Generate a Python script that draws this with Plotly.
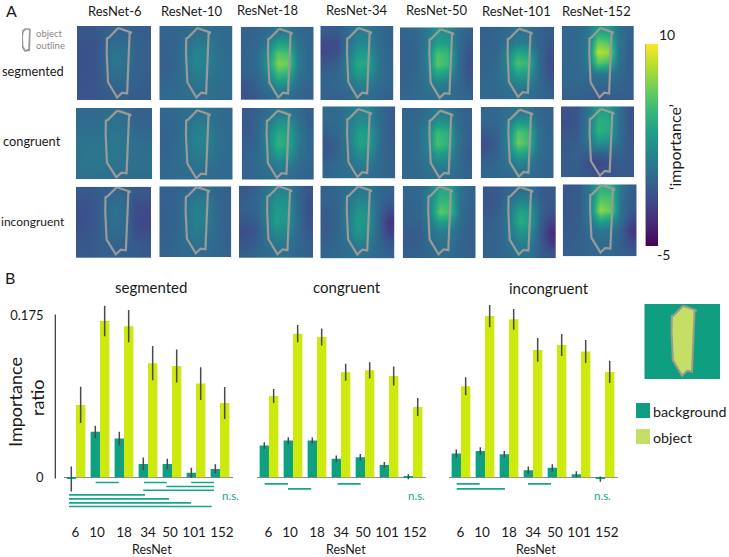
import plotly.graph_objects as go

W, H = 729, 557

networks = ["ResNet-6", "ResNet-10", "ResNet-18", "ResNet-34", "ResNet-50", "ResNet-101", "ResNet-152"]
depths = ["6", "10", "18", "34", "50", "101", "152"]
conditions = ["segmented", "congruent", "incongruent"]

# ---- bar values ----
seg_obj = [0.078, 0.1685, 0.163, 0.123, 0.120, 0.101, 0.080]
seg_obj_err = [0.0196, 0.0165, 0.0174, 0.0185, 0.0178, 0.0176, 0.0172]
seg_bg = [-0.002, 0.049, 0.0417, 0.0144, 0.0144, 0.0047, 0.009]
seg_bg_err = [0.0135, 0.0066, 0.0074, 0.007, 0.0054, 0.0054, 0.0049]

con_obj = [0.0877, 0.1549, 0.1513, 0.1132, 0.1153, 0.1092, 0.0758]
con_obj_err = [0.0075, 0.0092, 0.0092, 0.0092, 0.0088, 0.0102, 0.0097]
con_bg = [0.0341, 0.0395, 0.0395, 0.0198, 0.0216, 0.0133, 0.0004]
con_bg_err = [0.0036, 0.0036, 0.0034, 0.0036, 0.0034, 0.0032, 0.0027]

inc_obj = [0.0981, 0.1739, 0.1703, 0.1373, 0.1427, 0.1355, 0.1136]
inc_obj_err = [0.0097, 0.012, 0.0113, 0.0128, 0.0119, 0.0124, 0.012]
inc_bg = [0.0255, 0.0284, 0.0248, 0.0075, 0.0101, 0.0032, -0.002]
inc_bg_err = [0.0043, 0.004, 0.0036, 0.004, 0.0038, 0.0032, 0.0029]

# significance lines: start, end (in group units), level
seg_sig_start = [0.82, 2.83, 4.80, 3.76, 2.80, -0.29, -0.29, -0.29, -0.29]
seg_sig_end = [1.78, 3.78, 5.75, 5.75, 5.75, 2.875, 3.875, 4.79, 5.65]
seg_sig_level = [-0.00575, -0.00575, -0.00575, -0.010, -0.014, -0.019, -0.0234, -0.0277, -0.0316]

con_sig_start = [-0.18, 0.79, 2.86]
con_sig_end = [0.79, 1.76, 3.82]
con_sig_level = [-0.0072, -0.0126, -0.0072]

inc_sig_start = [-0.18, -0.18, 2.79]
inc_sig_end = [0.78, 1.83, 3.75]
inc_sig_level = [-0.0072, -0.0126, -0.0072]

# ---- heatmaps (panel A), 7x7 coarse reading, top row first ----
seg_6 = [[-.9,-.9,-.6,-.2,-.3,-.5,-.6],[-1.1,-1.1,-.5,.2,.1,-.3,-.5],[-1.2,-1.1,-.3,.8,.5,-.2,-.5],[-1.2,-1.1,-.3,.9,.5,-.2,-.5],[-1.2,-1.1,-.4,.5,.3,-.3,-.5],[-1.1,-1.0,-.6,-.1,-.1,-.4,-.6],[-1.0,-1.0,-.8,-.5,-.5,-.6,-.7]]
seg_10 = [[-.1,-.1,.1,.4,.4,.3,.1],[-.3,-.2,.4,1.1,1,.4,.1],[-.4,-.2,.7,1.8,1.6,.6,.2],[-.4,-.1,.8,1.9,1.6,.7,.3],[-.3,.0,.6,1.4,1.2,.5,.3],[-.1,.1,.4,.8,.7,.4,.3],[.1,.2,.3,.4,.4,.3,.2]]
seg_18 = [[-.4,-.2,.2,1.0,1.0,.1,-.2],[-.3,.0,1.0,3.4,3.2,.5,-.2],[-.2,.2,2.2,5.9,5.4,1.0,-.1],[-.3,.2,2.6,7.1,6.6,1.2,-.1],[-.4,.1,1.8,5.2,4.5,.8,-.1],[-.9,-.3,.6,2.4,2.0,.3,-.2],[-1.1,-.7,-.1,.6,.5,-.1,-.4]]
seg_34 = [[-.6,-.7,.1,1.3,1.3,.2,-.3],[-1.5,-1.5,.3,1.8,1.9,.3,-.3],[-1.6,-1.3,.7,3.0,3.0,.5,-.2],[-.9,-.6,1.0,4.0,3.8,.7,-.1],[-.3,-.1,.8,3.2,2.9,.6,.0],[-.2,.0,.4,1.5,1.4,.3,-.1],[-.4,-.3,-.1,.5,.4,-.1,-.3]]
seg_50 = [[-.1,.1,1.0,2.8,2.4,.4,-.4],[-.3,-.1,1.0,3.4,3.2,.2,-.8],[-.4,-.1,1.2,5.6,5.0,.3,-1.1],[-.4,-.1,1.2,6.0,5.2,.3,-1.3],[-.3,.0,1.0,3.6,3.0,.1,-1.0],[-.2,.0,.6,1.4,1.1,.0,-.6],[-.1,.1,.3,.6,.4,.0,-.3]]
seg_101 = [[-.3,-.2,.1,.6,.5,-.2,-.6],[-.3,-.2,.4,1.4,1.2,-.2,-.9],[-.2,-.1,1.2,4.0,3.4,.1,-1.2],[-.2,.0,1.6,5.6,5.0,.3,-1.4],[-.1,.1,1.2,3.6,3.2,.2,-1.2],[.0,.1,.7,1.6,1.4,.1,-.7],[.0,.1,.3,.5,.4,.0,-.4]]
seg_152 = [[-.1,.0,.8,3.6,3.4,.6,-.2],[-.1,.1,1.0,6.6,6,.8,-.4],[-.1,.1,1.2,8.4,7.8,.8,-.5],[-.1,.1,1.0,6.0,5.2,.5,-.5],[.0,.1,.3,.9,.8,.1,-.5],[-.1,.0,-.2,.0,-.1,-.2,-.5],[-.3,-.2,-.5,-.7,-.6,-.5,-.6]]

con_6 = [[.1,.1,.2,.4,.2,-.5,-.4],[.3,.3,.4,.7,.4,-.3,-.3],[.5,.5,.6,1.0,.6,.1,.1],[.7,.7,.7,1.1,.8,.4,.3],[.8,.9,.9,1.0,.8,.5,.5],[.7,.9,.8,.7,.6,.5,.5],[.5,.6,.5,.4,.3,.3,.3]]
con_10 = [[.0,.1,.3,.7,.7,.3,.1],[-.1,.0,.6,1.2,1.2,.4,.1],[-.2,.0,.8,1.7,1.7,.6,.2],[-.2,.1,.8,1.7,1.6,.6,.2],[-.1,.2,.7,1.3,1.2,.5,.2],[.0,.2,.4,.8,.7,.3,.1],[.1,.2,.3,.4,.3,.2,.1]]
con_18 = [[-.7,-.3,.4,1.2,1.2,.1,-.5],[-.8,-.2,1.2,2.8,2.8,.6,-.4],[-.7,-.1,1.8,4.2,3.8,1.0,-.2],[-.5,.0,1.8,4.6,4.0,1.0,-.1],[-.3,.1,1.4,3.2,2.8,.7,-.1],[-.2,.1,.8,1.6,1.4,.3,-.2],[-.2,.0,.3,.6,.5,.0,-.3]]
con_34 = [[.1,.3,1.0,1.8,1.8,.2,-.5],[.1,.3,1.2,2.4,2.2,.3,-.6],[-.3,.1,1.2,3.6,3.2,.3,-.6],[-.9,-.2,1.2,3.8,3.2,.3,-.5],[-.8,-.1,.9,2.4,2.2,.2,-.4],[-.2,.1,.6,1.4,1.2,.1,-.3],[-.1,.1,.3,.6,.5,.0,-.2]]
con_50 = [[-.2,-.1,.3,1.2,1.0,.1,-.3],[-.1,.1,.9,2.8,2.6,.3,-.4],[.0,.2,1.6,5.2,4.4,.7,-.4],[.0,.2,1.6,5.6,4.6,.7,-.4],[.0,.2,1.2,3.2,2.8,.5,-.6],[.0,.1,.7,1.6,1.4,.3,-.4],[.0,.1,.3,.6,.5,.1,-.2]]
con_101 = [[-.1,.0,.4,1.0,1.0,.0,-.3],[-.1,.0,.9,3.0,2.8,.3,-.4],[-.7,-.2,1.4,6.0,5.0,.6,-.3],[-1.3,-.5,1.5,6.6,5.4,.6,-.2],[-.9,-.3,1.2,4.0,3.2,.4,-.2],[-.3,.0,.6,1.6,1.4,.1,-.2],[-.1,.0,.2,.5,.4,.0,-.2]]
con_152 = [[-1.1,-.9,.6,3.4,3.4,.4,-1.0],[-1.3,-1.0,.8,4.4,4.2,.5,-1.0],[-1.0,-.8,.8,4.6,4.0,.4,-.9],[-.7,-.5,.5,2.8,2.4,.2,-.8],[-.6,-.4,-.4,-.1,.0,-.2,-.7],[-.6,-.5,-1.2,-1.8,-1.2,-.6,-.8],[-.6,-.6,-1.0,-1.3,-1.0,-.7,-.8]]

inc_6 = [[-.8,-.8,-.5,-.1,-.3,-.8,-.9],[-1.1,-1.0,-.3,.4,.1,-1.2,-1.3],[-1.3,-1.1,-.2,.7,.2,-1.5,-1.6],[-1.3,-1.0,-.2,.6,.1,-1.6,-1.8],[-1.1,-.9,-.3,.2,.0,-1.2,-1.4],[-.9,-.8,-.4,-.2,-.3,-.8,-1.0],[-.8,-.7,-.5,-.5,-.5,-.6,-.8]]
inc_10 = [[-.3,-.3,.0,.5,.5,-.1,-.3],[-.4,-.3,.4,1.2,1.1,.0,-.4],[-.5,-.3,.6,1.6,1.4,.1,-.4],[-.5,-.3,.6,1.7,1.4,.1,-.4],[-.4,-.2,.5,1.3,1.0,.1,-.3],[-.3,-.1,.3,.7,.6,.0,-.3],[-.2,-.1,.1,.3,.2,-.1,-.2]]
inc_18 = [[-.8,-.4,.5,1.8,1.6,-.2,-1.0],[-.6,-.1,.9,2.6,2.4,.0,-1.2],[-.5,-.2,1.0,3.2,2.8,.1,-1.3],[-.9,-.6,.9,3.2,2.8,.2,-1.1],[-1.4,-1.0,.6,2.2,2.0,.1,-.8],[-1.1,-.6,.3,1.2,1.0,.0,-.6],[-.5,-.2,.1,.5,.5,-.1,-.5]]
inc_34 = [[-.3,-.1,.4,1.0,1.0,.0,-.3],[-.4,-.2,.8,2.0,1.8,.0,-.7],[-.6,-.3,1.0,2.8,2.4,-.1,-1.6],[-.7,-.3,1.0,3.2,2.6,-.3,-2.6],[-.6,-.2,.9,2.8,2.2,-.2,-2.0],[-.4,-.1,.6,1.6,1.3,-.1,-1.0],[-.2,.0,.3,.6,.5,-.1,-.4]]
inc_50 = [[-.1,.1,1.2,4.0,3.8,.6,-.2],[-.2,.0,1.4,5.0,4.8,.6,-.3],[-.3,-.1,1.4,6.2,5.4,.5,-.4],[-.4,-.3,1.0,3.4,2.8,.2,-.5],[-.7,-.5,.4,1.4,1.2,.0,-.5],[-.7,-.5,.2,.6,.5,-.2,-.5],[-.5,-.4,.0,.2,.2,-.2,-.4]]
inc_101 = [[-.9,-.7,-.1,.5,.4,-.7,-.8],[-1.0,-.6,.6,1.8,1.6,-.4,-.8],[-.8,-.4,1.0,3.8,3.2,-.3,-1.2],[-.5,-.2,1.1,4.2,3.4,-.6,-2.0],[-.4,-.2,.9,2.8,2.2,-.9,-3.0],[-.3,-.2,.6,1.6,1.2,-.7,-2.4],[-.3,-.2,.2,.8,.6,-.5,-1.0]]
inc_152 = [[-.9,-.6,1.0,4.6,4.6,.8,-.6],[-.9,-.6,1.0,6.0,5.6,.6,-.7],[-.9,-.6,1.0,7.6,6.4,.5,-.9],[-.8,-.5,.7,3.8,3.0,.2,-1.6],[-.7,-.5,.2,1.0,.8,-.4,-2.6],[-.6,-.4,.0,.3,.2,-.5,-1.6],[-.5,-.4,-.1,.0,.0,-.4,-.7]]

heat_rows = [
    [seg_6, seg_10, seg_18, seg_34, seg_50, seg_101, seg_152],
    [con_6, con_10, con_18, con_34, con_50, con_101, con_152],
    [inc_6, inc_10, inc_18, inc_34, inc_50, inc_101, inc_152],
]

# pixel boxes of the heatmaps: x0, x1, y0, y1
heat_boxes = [
    [(77, 151.3, 26, 100), (159.3, 232.7, 26, 100), (240.7, 313.7, 26.7, 100), (320.3, 393.7, 26, 100),
     (400, 473.3, 27.3, 100.3), (480, 554, 26.7, 99.3), (561.7, 634, 26, 100)],
    [(76, 152, 108, 179), (159.7, 232.7, 107.5, 180), (241.7, 314, 108, 179.5), (322.3, 395.3, 106.3, 178.7),
     (402, 472.3, 108, 179.3), (480.7, 553.7, 107, 178.3), (561, 634.3, 106.3, 177.3)],
    [(76, 151, 186.7, 258), (159.3, 231.3, 186.3, 257), (239, 313, 185.7, 258), (320.3, 394.7, 185.7, 258.3),
     (402.7, 475.7, 186, 258), (482.7, 556, 186.3, 258.3), (562.7, 636.7, 184.3, 256.3)],
]
outline_left = [
    [.40, .364, .374, .364, .40, .373, .381],
    [.39, .36, .345, .34, .39, .38, .39],
    [.39, .366, .38, .356, .35, .35, .37],
]
outline_top = [.027, .037, .008]
outline_x = [.46, 1, .92, .82, .62, .42, .054, 0, .01, .08, .46]
outline_y = [0, .067, .08, .94, .93, 1, .78, .365, .15, .14, 0]

BG = "#0FA082"
OBJ = "#CDE90E"
GREY = "#9B9A98"
TEAL = "#17A68A"

fig = go.Figure()
axis_count = 0
axes = {}
notes = []


def new_axes(x0, x1, y0, y1, xr, yr, **xtra):
    # one x/y pair placed by pixel box
    global axis_count
    axis_count += 1
    n = "" if axis_count == 1 else str(axis_count)
    off = dict(visible=False, fixedrange=True)
    axes["xaxis" + n] = dict(off, domain=[x0 / W, x1 / W], range=xr, anchor="y" + n)
    axes["yaxis" + n] = dict(off, domain=[1 - y1 / H, 1 - y0 / H], range=yr, anchor="x" + n)
    return "x" + n, "y" + n


def label(x, y, text, size=13, color="#1a1a1a", angle=0, anchor="center"):
    notes.append(dict(xref="paper", yref="paper", x=x / W, y=1 - y / H, text=text, showarrow=False,
                      xanchor=anchor, yanchor="middle", textangle=angle, borderpad=0,
                      font=dict(size=size, color=color)))


cell_centers = [(i + .5) / 7 for i in range(7)]
for r in range(3):
    for c in range(7):
        x0, x1, y0, y1 = heat_boxes[r][c]
        xa, ya = new_axes(x0, x1, y0, y1, [0, 1], [1, 0])
        fig.add_trace(go.Heatmap(z=heat_rows[r][c], x=cell_centers, y=cell_centers, coloraxis="coloraxis",
                                 zsmooth="best", xaxis=xa, yaxis=ya, hoverinfo="skip"))
        fig.add_trace(go.Scatter(x=[outline_left[r][c] + v * .335 for v in outline_x],
                                 y=[outline_top[r] + v * .94 for v in outline_y],
                                 mode="lines", line=dict(color=GREY, width=2.2), xaxis=xa, yaxis=ya,
                                 showlegend=False, cliponaxis=False, hoverinfo="skip"))

# object outline icon
xa, ya = new_axes(22, 30.7, 28.3, 51.7, [0, 1], [1, 0])
fig.add_trace(go.Scatter(x=outline_x, y=outline_y, mode="lines", line=dict(color="#9a9a9a", width=2),
                         xaxis=xa, yaxis=ya, showlegend=False, cliponaxis=False, hoverinfo="skip"))

# inset: background / object mask
xa, ya = new_axes(644.3, 720, 303.7, 379, [0, 1], [1, 0])
fig.add_trace(go.Scatter(x=[0, 1, 1, 0, 0], y=[0, 0, 1, 1, 0], mode="lines", fill="toself", fillcolor="#0F9E80",
                         line=dict(width=0), xaxis=xa, yaxis=ya, showlegend=False, hoverinfo="skip"))
fig.add_trace(go.Scatter(x=[.36 + v * .33 for v in outline_x], y=[.027 + v * .93 for v in outline_y], mode="lines",
                         fill="toself", fillcolor="#C5DF66", line=dict(color="#9a9a90", width=2),
                         xaxis=xa, yaxis=ya, showlegend=False, hoverinfo="skip"))

# bar panels
panels = [
    (63.5, seg_bg, seg_bg_err, seg_obj, seg_obj_err, seg_sig_start, seg_sig_end, seg_sig_level),
    (256.5, con_bg, con_bg_err, con_obj, con_obj_err, con_sig_start, con_sig_end, con_sig_level),
    (448.5, inc_bg, inc_bg_err, inc_obj, inc_obj_err, inc_sig_start, inc_sig_end, inc_sig_level),
]
tick_positions = [-0.02, 0.875, 2, 3, 3.92, 4.92, 6.08]
groups = list(range(7))
for i, (left, bg, bg_err, obj, obj_err, s0, s1, lv) in enumerate(panels):
    xa, ya = new_axes(left, left + 169, 296, 522, [-.0, 1], [-.0483, .1955])
    axes["xaxis" + xa[1:]]["range"] = [-.52, 6.52]
    for vals, errs, col in ((bg, bg_err, BG), (obj, obj_err, OBJ)):
        fig.add_trace(go.Bar(x=groups, y=vals, marker=dict(color=col, line=dict(width=0)),
                             error_y=dict(type="data", array=errs, color="#4a4a4a", thickness=1.5, width=0),
                             xaxis=xa, yaxis=ya, showlegend=False))
    sx, sy = [], []
    for a, b, l in zip(s0, s1, lv):
        sx += [a, b, None]
        sy += [l, l, None]
    fig.add_trace(go.Scatter(x=sx, y=sy, mode="lines", line=dict(color=TEAL, width=1.6), xaxis=xa, yaxis=ya,
                             showlegend=False, cliponaxis=False, hoverinfo="skip"))
    xn, yn = "xaxis" + xa[1:], "yaxis" + ya[1:]
    axes[xn].update(visible=True, showgrid=False, zeroline=False, showline=False, ticks="",
                    tickmode="array", tickvals=tick_positions, ticktext=depths,
                    tickfont=dict(size=13.5, color="#1a1a1a"))
    axes[yn].update(visible=True, showgrid=False, showline=False, ticks="", zeroline=True,
                    zerolinecolor="#8a8a8a", zerolinewidth=1, showticklabels=i == 0,
                    tickmode="array", tickvals=[0, .175], ticktext=["0", "0.175"],
                    tickfont=dict(size=13, color="#1a1a1a"), ticklabelstandoff=19)
first_bar_y = "y" + str(axis_count - 2)

layout_shapes = [
    dict(type="line", xref="paper", yref=first_bar_y, x0=55.3 / W, x1=55.3 / W, y0=-.0015, y1=.1755,
         line=dict(color="#333333", width=1.2)),
    dict(type="rect", xref="paper", yref="paper", x0=636 / W, x1=650 / W, y0=1 - 418 / H, y1=1 - 403 / H,
         fillcolor="#0F9E80", line=dict(width=0)),
    dict(type="rect", xref="paper", yref="paper", x0=636 / W, x1=650 / W, y0=1 - 444 / H, y1=1 - 429 / H,
         fillcolor="#C5DF66", line=dict(width=0)),
    dict(type="line", xref="paper", yref="paper", x0=646 / W, x1=646 / W, y0=1 - 246 / H, y1=1 - 44 / H,
         line=dict(color="#555555", width=1)),
]

# text
label(11, 10.5, "A", 16)
label(10, 277, "B", 16)
title_x = [115, 192, 267, 357, 437, 516, 596]
title_y = [11, 11, 10, 10, 10, 11, 11]
for name, tx, ty in zip(networks, title_x, title_y):
    label(tx, ty, name, 13)
for name, tx, ty, sz in zip(conditions, [33, 32, 33], [71, 141, 221], [12.8, 12.8, 12]):
    label(tx, ty, name, sz)
label(35, 33, "object", 9.5, "#8a8a8a", anchor="left")
label(35, 46, "outline", 9.5, "#8a8a8a", anchor="left")
for name, tx, ty in zip(conditions, [150.7, 347.3, 549], [287, 287, 288]):
    label(tx, ty, name, 15)
for tx in [151.7, 346, 536]:
    label(tx, 549, "ResNet", 12.5)
for tx in [230, 417, 602]:
    label(tx, 495.7, "n.s.", 11.5, TEAL)
label(15, 402, "Importance", 18, angle=-90)
label(37, 398, "ratio", 18, angle=-90)
label(652, 411, "background", 14.3, anchor="left")
label(652, 437, "object", 14.3, anchor="left")
label(667, 34, "10", 14)
label(663, 254, "-5", 14)
label(675, 147, "‘importance’", 16, angle=-90)

fig.update_layout(
    width=W, height=H, margin=dict(l=0, r=0, t=0, b=0), paper_bgcolor="white", plot_bgcolor="rgba(0,0,0,0)",
    font=dict(family="Lato", color="#1a1a1a"), barmode="group", bargap=.22, bargroupgap=0, showlegend=False,
    coloraxis=dict(cmin=-5, cmax=10, colorscale="Viridis",
                   colorbar=dict(x=646 / W, xanchor="left", xpad=0, ypad=0, y=1 - 145 / H, yanchor="middle",
                                 len=202, lenmode="pixels", thickness=12, thicknessmode="pixels",
                                 outlinewidth=0, ticks="", showticklabels=False)),
    shapes=layout_shapes, annotations=notes, **axes)

fig.write_html("out.html", post_script="document.body.style.margin='0';", config={"displayModeBar": False})
